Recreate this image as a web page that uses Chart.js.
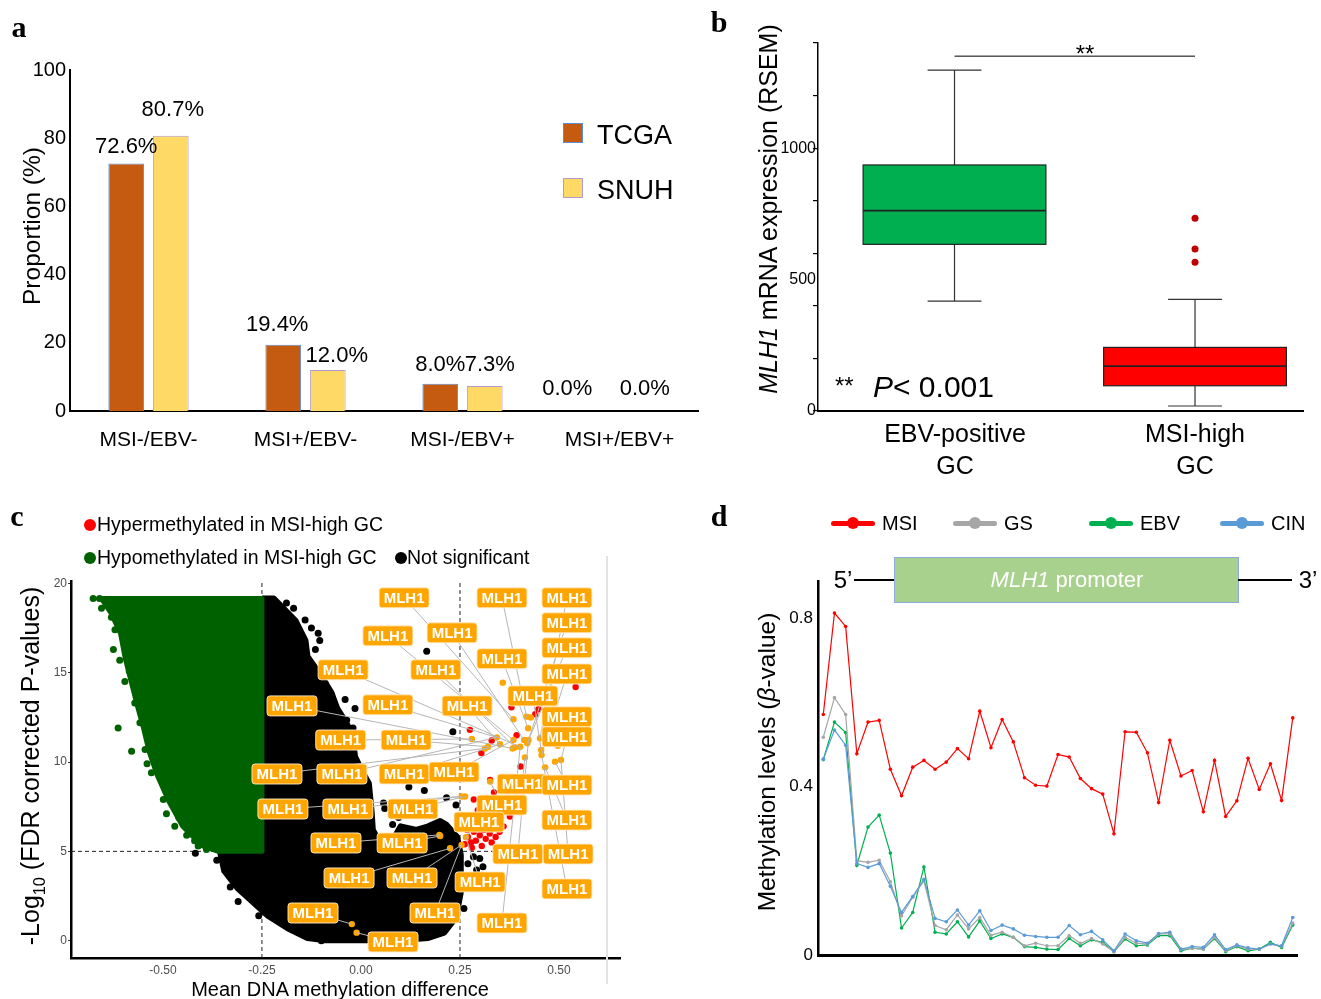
<!DOCTYPE html>
<html>
<head>
<meta charset="utf-8">
<title>MLH1 figure</title>
<script src="https://cdn.jsdelivr.net/npm/chart.js@4.4.1/dist/chart.umd.min.js"></script>
<style>
  body { margin: 0; background: #fff; }
  #fig { position: relative; width: 1321px; height: 999px; overflow: hidden; background: #fff;
         font-family: 'Liberation Sans', Arial, sans-serif; color: #000; }
  #fig canvas { position: absolute; }
  .t { position: absolute; white-space: nowrap; line-height: 1; }
  .panel { font-family: 'Liberation Serif', 'Times New Roman', serif; font-weight: bold; }
</style>
</head>
<body>
<div id="fig">
  <canvas id="chartA" width="720" height="480" style="left:0;top:0"></canvas>
  <canvas id="chartB" width="601" height="480" style="left:720px;top:0"></canvas>
  <canvas id="chartC" width="720" height="519" style="left:0;top:480px"></canvas>
  <canvas id="chartD" width="601" height="519" style="left:720px;top:480px"></canvas>
</div>
<script>
// a: subtype proportions
const subtypes = ['MSI-/EBV-', 'MSI+/EBV-', 'MSI-/EBV+', 'MSI+/EBV+'];
const tcgaPct = [72.6, 19.4, 8.0, 0.0];
const snuhPct = [80.7, 12.0, 7.3, 0.0];

// b: MLH1 expression box plots
const exprGroups = [['EBV-positive', 'GC'], ['MSI-high', 'GC']];
const exprMin = [418, 19];
const exprQ1 = [634, 96];
const exprMedian = [762, 171];
const exprQ3 = [936, 242];
const exprMax = [1297, 425];
const msiOutliers = [733, 616, 566];
const exprSigY = 1350;
const exprTicks = [0, 200, 400, 500, 600, 800, 1000, 1200, 1400];
const exprTickLabels = [0, 500, 1000];

// c: volcano plot (dense clouds as outlines, sparse points individually)
const diffCut = [-0.25, 0.25];
const fdrCut = 5;
const notSigCloud = [
  [-0.25, 19.15], [-0.22, 19.15], [-0.2, 18.7], [-0.165, 17.9], [-0.14, 16.8], [-0.135, 15.9],
  [-0.1, 14.8], [-0.075, 13.9], [-0.06, 13.0], [-0.04, 12.3], [-0.022, 11.6], [-0.015, 10.3],
  [0.005, 9.4], [0.02, 8.8], [0.027, 7.2], [0.03, 6.2], [0.05, 5.4], [0.085, 5.8], [0.1, 6.4],
  [0.14, 6.2], [0.17, 6.4], [0.2, 6.7], [0.215, 6.5], [0.243, 5.8], [0.252, 4.8], [0.252, 2.7],
  [0.24, 1.3], [0.21, 0.45], [0.17, 0.15], [0.11, 0.05], [0.05, 0.03], [-0.09, 0.03],
  [-0.135, 0.15], [-0.185, 0.7], [-0.235, 1.4], [-0.275, 2.2], [-0.31, 2.9], [-0.345, 3.9],
  [-0.355, 4.9], [-0.25, 4.9], [-0.25, 19.15],
];
const notSigDots = [
  [-0.188, 18.9], [-0.17, 18.6], [-0.141, 17.95], [-0.125, 17.5], [-0.108, 17.2], [-0.104, 16.8],
  [-0.115, 16.3], [-0.09, 14.4], [-0.074, 13.75], [-0.04, 13.5], [-0.015, 13.0], [-0.036, 12.35],
  [-0.02, 11.9], [0.166, 16.2], [0.232, 11.7], [0.121, 8.6], [0.16, 8.4], [0.057, 7.7],
  [0.216, 8.0], [0.06, 7.4], [0.24, 7.6], [0.284, 4.7], [0.308, 4.14], [0.292, 3.96], [0.3, 4.6],
  [0.27, 4.3], [0.206, 0.8], [0.26, 1.8], [-0.418, 4.9], [-0.364, 4.5], [-0.258, 1.4],
  [-0.31, 2.2], [-0.33, 3.0], [-0.1, 0.0], [0.08, 6.5], [0.095, 6.9],
];
const hypoCloud = [
  [-0.655, 19.15], [-0.25, 19.15], [-0.25, 5.0], [-0.36, 5.0], [-0.4, 5.3], [-0.45, 6.4],
  [-0.485, 7.8], [-0.515, 9.3], [-0.535, 10.6], [-0.55, 12.0], [-0.565, 13.2], [-0.58, 14.5],
  [-0.595, 15.8], [-0.607, 17.2], [-0.63, 18.3], [-0.655, 19.15],
];
const hypoDots = [
  [-0.676, 19.15], [-0.66, 19.15], [-0.64, 19.0], [-0.655, 18.6], [-0.63, 18.1], [-0.621, 17.4],
  [-0.625, 16.3], [-0.609, 15.7], [-0.596, 14.5], [-0.585, 15.1], [-0.571, 13.3], [-0.558, 12.2],
  [-0.613, 11.9], [-0.545, 10.7], [-0.579, 10.6], [-0.529, 9.4], [-0.54, 9.9], [-0.499, 7.9],
  [-0.491, 7.1], [-0.47, 6.4], [-0.46, 6.9], [-0.44, 5.9], [-0.411, 5.3], [-0.42, 5.6], [-0.39, 5.1],
];
const hyperDots = [
  [0.262, 5.4], [0.27, 5.8], [0.278, 5.5], [0.285, 6.1], [0.29, 5.6], [0.296, 6.4], [0.3, 5.9],
  [0.305, 5.3], [0.31, 6.2], [0.315, 5.7], [0.32, 6.6], [0.325, 6.0], [0.33, 5.5], [0.335, 6.3],
  [0.34, 5.8], [0.275, 6.6], [0.283, 7.0], [0.295, 7.3], [0.31, 7.6], [0.322, 7.1], [0.338, 7.8],
  [0.285, 7.9], [0.336, 8.3], [0.326, 9.0], [0.376, 6.95], [0.36, 6.4], [0.345, 6.9], [0.304, 10.5],
  [0.275, 11.8], [0.33, 11.2], [0.393, 11.5], [0.38, 13.06], [0.44, 12.67], [0.448, 12.95],
  [0.542, 14.2], [0.403, 9.75], [0.28, 5.2], [0.35, 6.1], [0.3, 6.9], [0.268, 6.2],
];
const probeGene = 'MLH1';
const mlh1Probes = [
  [0.358, 14.44], [0.418, 12.54], [0.429, 12.49], [0.422, 11.89], [0.385, 12.39], [0.343, 11.38],
  [0.351, 10.99], [0.385, 11.23], [0.389, 10.82], [0.383, 10.76], [0.402, 10.85], [0.412, 11.23],
  [0.423, 11.23], [0.42, 11.05], [0.452, 11.33], [0.28, 11.29], [0.321, 10.85], [0.313, 10.76],
  [0.414, 10.25], [0.455, 10.67], [0.456, 10.39], [0.49, 10.02], [0.505, 10.11], [0.465, 9.7],
  [0.326, 8.91], [0.254, 8.07], [0.263, 8.07], [0.2, 5.86], [0.265, 5.79], [0.225, 5.17],
  [0.254, 5.36], [-0.023, 0.93], [-0.011, 0.45], [0.198, 5.92], [0.497, 10.91],
];
// label x, label y, index of the probe it points at
const probeLabels = [
  [0.109, 19.19, 4], [0.356, 19.19, 1], [0.52, 19.19, 14], [0.52, 17.79, 12], [0.068, 17.06, 7],
  [0.23, 17.23, 11], [0.52, 16.39, 13], [0.356, 15.78, 3], [-0.045, 15.16, 10], [0.189, 15.16, 8],
  [0.52, 14.93, 20], [0.434, 13.7, 19], [-0.174, 13.14, 9], [0.068, 13.2, 5], [0.268, 13.14, 6],
  [0.52, 12.53, 34], [0.52, 11.41, 22], [-0.051, 11.23, 15], [0.114, 11.23, 16], [-0.212, 9.33, 17],
  [-0.048, 9.33, 5], [0.109, 9.33, 6], [0.235, 9.44, 7], [0.407, 8.77, 18], [0.52, 8.71, 21],
  [0.356, 7.59, 24], [-0.197, 7.37, 25], [-0.033, 7.37, 25], [0.131, 7.37, 26], [0.298, 6.64, 28],
  [0.52, 6.75, 23], [-0.063, 5.47, 33], [0.104, 5.47, 27], [0.396, 4.85, 12], [0.523, 4.85, 22],
  [-0.03, 3.51, 29], [0.129, 3.51, 30], [0.301, 3.29, 28], [0.52, 2.9, 20], [-0.121, 1.55, 31],
  [0.187, 1.55, 30], [0.356, 0.99, 10], [0.081, -0.07, 32],
];

// d: promoter CpG methylation per subtype
const msiBeta = [0.571, 0.812, 0.78, 0.478, 0.553, 0.557, 0.441, 0.378, 0.446, 0.462, 0.441, 0.458,
  0.49, 0.466, 0.579, 0.492, 0.559, 0.506, 0.421, 0.403, 0.401, 0.476, 0.47, 0.419, 0.395, 0.382,
  0.288, 0.53, 0.529, 0.48, 0.362, 0.51, 0.425, 0.438, 0.34, 0.462, 0.329, 0.366, 0.467, 0.393,
  0.454, 0.367, 0.563];
const gsBeta = [0.517, 0.611, 0.571, 0.224, 0.22, 0.225, 0.174, 0.093, 0.137, 0.176, 0.07, 0.06,
  0.095, 0.062, 0.089, 0.047, 0.054, 0.042, 0.022, 0.028, 0.022, 0.022, 0.046, 0.028, 0.039, 0.026,
  0.008, 0.042, 0.028, 0.026, 0.05, 0.05, 0.013, 0.016, 0.014, 0.042, 0.01, 0.022, 0.014, 0.014,
  0.026, 0.021, 0.076];
const ebvBeta = [0.464, 0.553, 0.528, 0.213, 0.304, 0.332, 0.242, 0.064, 0.101, 0.209, 0.054, 0.05,
  0.079, 0.043, 0.081, 0.039, 0.05, 0.042, 0.02, 0.018, 0.014, 0.013, 0.039, 0.022, 0.036, 0.03,
  0.008, 0.038, 0.022, 0.024, 0.046, 0.046, 0.01, 0.016, 0.014, 0.039, 0.008, 0.02, 0.01, 0.014,
  0.03, 0.018, 0.071];
const cinBeta = [0.465, 0.534, 0.498, 0.217, 0.208, 0.217, 0.163, 0.101, 0.139, 0.18, 0.087, 0.079,
  0.107, 0.071, 0.105, 0.058, 0.071, 0.062, 0.047, 0.044, 0.042, 0.042, 0.07, 0.048, 0.056, 0.036,
  0.01, 0.05, 0.034, 0.028, 0.051, 0.054, 0.014, 0.02, 0.018, 0.048, 0.013, 0.024, 0.017, 0.014,
  0.026, 0.022, 0.089];

Chart.defaults.font.family = "'Liberation Sans', Arial, sans-serif";
Chart.defaults.color = '#000';
Chart.defaults.animation = false;
Chart.defaults.responsive = false;
Chart.defaults.events = [];
Chart.defaults.plugins.legend.display = false;
Chart.defaults.plugins.tooltip.enabled = false;

const fig = document.getElementById('fig');

function put(html, x, y, size, opt = {}) {
  const d = document.createElement('div');
  d.className = 't' + (opt.cls ? ' ' + opt.cls : '');
  d.innerHTML = html;
  d.style.left = x + 'px';
  d.style.top = y + 'px';
  d.style.fontSize = size + 'px';
  let tf = opt.left ? 'translate(0,-50%)' : 'translate(-50%,-50%)';
  if (opt.rot) tf += ' rotate(-90deg)';
  d.style.transform = tf;
  if (opt.color) d.style.color = opt.color;
  fig.appendChild(d);
  return d;
}

function block(x, y, w, h, css) {
  const d = document.createElement('div');
  d.style.cssText = `position:absolute;left:${x}px;top:${y}px;width:${w}px;height:${h}px;box-sizing:border-box;${css}`;
  fig.appendChild(d);
}

const pts = (arr) => arr.map(([x, y]) => ({ x, y }));

// ---------- a ----------
// label placement as in the original figure (px shift right, px lift above bar)
const pctShift = [[0, -6, 0, -30], [2, 9, 5, 3]];
const pctLift = [[16, 20, 19, 22], [26, 14, 21, 22]];

const pctLabels = {
  id: 'pctLabels',
  afterDatasetsDraw(chart) {
    const { ctx } = chart;
    ctx.save();
    ctx.font = "22px 'Liberation Sans', Arial, sans-serif";
    ctx.fillStyle = '#000';
    ctx.textAlign = 'center';
    ctx.textBaseline = 'middle';
    chart.data.datasets.forEach((ds, i) => {
      chart.getDatasetMeta(i).data.forEach((bar, j) => {
        ctx.fillText(ds.data[j].toFixed(1) + '%', bar.x + pctShift[i][j], bar.y - pctLift[i][j]);
      });
    });
    ctx.restore();
  },
};

new Chart(document.getElementById('chartA'), {
  type: 'bar',
  data: {
    labels: subtypes,
    datasets: [
      { data: tcgaPct, backgroundColor: '#C55A11', borderColor: '#5B8BD0', borderWidth: 1 },
      { data: snuhPct, backgroundColor: '#FFD966', borderColor: '#B09CCF', borderWidth: 1 },
    ],
  },
  options: {
    layout: { padding: { left: 20, right: 22, top: 70, bottom: 19 } },
    datasets: { bar: { categoryPercentage: 0.567, barPercentage: 0.803 } },
    scales: {
      x: {
        grid: { display: false, drawTicks: false },
        border: { color: '#000', width: 2 },
        ticks: { font: { size: 21 }, padding: 17 },
        afterFit: (s) => { s.height = 50; },
      },
      y: {
        min: 0, max: 100,
        grid: { display: false, drawTicks: false },
        border: { color: '#000', width: 2 },
        ticks: { stepSize: 20, font: { size: 20 }, padding: 4 },
        afterFit: (s) => { s.width = 50; },
      },
    },
  },
  plugins: [pctLabels],
});

// ---------- b ----------
const BOX_HALF = 0.38;
const CAP_HALF = 0.112;
const boxFill = ['#00B050', '#FF0000'];

const boxPlot = {
  id: 'boxPlot',
  beforeDatasetsDraw(chart) {
    const { ctx, scales: { x, y } } = chart;
    ctx.save();
    exprGroups.forEach((g, i) => {
      const c = x.getPixelForValue(i + 1);
      const hw = x.getPixelForValue(i + 1 + BOX_HALF) - c;
      const cw = x.getPixelForValue(i + 1 + CAP_HALF) - c;
      const yLo = y.getPixelForValue(exprMin[i]);
      const yQ1 = y.getPixelForValue(exprQ1[i]);
      const yMed = y.getPixelForValue(exprMedian[i]);
      const yQ3 = y.getPixelForValue(exprQ3[i]);
      const yHi = y.getPixelForValue(exprMax[i]);
      ctx.strokeStyle = '#333';
      ctx.lineWidth = 1.2;
      ctx.beginPath();
      ctx.moveTo(c, yHi); ctx.lineTo(c, yQ3);
      ctx.moveTo(c, yQ1); ctx.lineTo(c, yLo);
      ctx.moveTo(c - cw, yHi); ctx.lineTo(c + cw, yHi);
      ctx.moveTo(c - cw, yLo); ctx.lineTo(c + cw, yLo);
      ctx.stroke();
      ctx.fillStyle = boxFill[i];
      ctx.fillRect(c - hw, yQ3, 2 * hw, yQ1 - yQ3);
      ctx.strokeStyle = '#222';
      ctx.strokeRect(c - hw, yQ3, 2 * hw, yQ1 - yQ3);
      ctx.lineWidth = 1.8;
      ctx.beginPath();
      ctx.moveTo(c - hw, yMed); ctx.lineTo(c + hw, yMed);
      ctx.stroke();
    });
    ctx.restore();
  },
};

new Chart(document.getElementById('chartB'), {
  type: 'scatter',
  data: {
    datasets: [
      { data: msiOutliers.map((v) => ({ x: 2, y: v })), pointRadius: 3.5, backgroundColor: '#C00000', borderWidth: 0 },
      { data: [{ x: 1, y: exprSigY }, { x: 2, y: exprSigY }], showLine: true, borderColor: '#000', borderWidth: 1, pointRadius: 0 },
    ],
  },
  options: {
    layout: { padding: { left: 48, right: 18, top: 43, bottom: 19 } },
    scales: {
      x: {
        type: 'linear', min: 0.4324, max: 2.449,
        ticks: { display: false },
        grid: { display: false, drawTicks: false },
        border: { color: '#000', width: 2 },
        afterFit: (s) => { s.height = 50; },
      },
      y: {
        min: 0, max: 1400,
        afterBuildTicks: (s) => { s.ticks = exprTicks.map((v) => ({ value: v })); },
        ticks: {
          font: { size: 16 }, padding: -3,
          callback: (v) => (exprTickLabels.includes(v) ? String(v) : ''),
        },
        grid: {
          drawOnChartArea: false, tickLength: 5, lineWidth: 1.2,
          tickColor: (c) => (c.tick && c.tick.value === 500 ? 'rgba(0,0,0,0)' : '#000'),
        },
        border: { color: '#000', width: 1.5 },
        afterFit: (s) => { s.width = 50; },
      },
    },
  },
  plugins: [boxPlot],
});

// ---------- c ----------
const cX = { min: -0.732, max: 0.654 };
const cY = { min: -0.968, max: 20.13 };
const fdrLineEnd = 0.59;

const repelLabels = {
  id: 'repelLabels',
  afterDatasetsDraw(chart) {
    const { ctx, scales: { x, y } } = chart;
    ctx.save();
    ctx.strokeStyle = '#b5b5b5';
    ctx.lineWidth = 1;
    probeLabels.forEach(([lx, ly, t]) => {
      const p = mlh1Probes[t];
      ctx.beginPath();
      ctx.moveTo(x.getPixelForValue(lx), y.getPixelForValue(ly));
      ctx.lineTo(x.getPixelForValue(p[0]), y.getPixelForValue(p[1]));
      ctx.stroke();
    });
    ctx.font = "bold 15px 'Liberation Sans', Arial, sans-serif";
    ctx.textAlign = 'center';
    ctx.textBaseline = 'middle';
    probeLabels.forEach(([lx, ly]) => {
      const px = x.getPixelForValue(lx), py = y.getPixelForValue(ly);
      ctx.beginPath();
      ctx.roundRect(px - 25, py - 10, 50, 20, 3);
      ctx.fillStyle = '#FFA500';
      ctx.fill();
      ctx.strokeStyle = 'rgba(255,235,200,0.9)';
      ctx.stroke();
      ctx.fillStyle = '#fff';
      ctx.fillText(probeGene, px, py + 1);
    });
    ctx.restore();
  },
};

const dashed = { showLine: true, borderColor: '#222', borderWidth: 1, borderDash: [4, 3], pointRadius: 0, order: 20 };

new Chart(document.getElementById('chartC'), {
  type: 'scatter',
  data: {
    datasets: [
      ...diffCut.map((v) => ({ ...dashed, data: [{ x: v, y: cY.min }, { x: v, y: cY.max }] })),
      { ...dashed, data: [{ x: cX.min, y: fdrCut }, { x: fdrLineEnd, y: fdrCut }] },
      { data: pts(notSigCloud), showLine: true, fill: 'shape', backgroundColor: '#000', borderColor: '#000',
        borderWidth: 6, borderJoinStyle: 'round', pointRadius: 0, order: 15 },
      { data: pts(notSigDots), pointRadius: 3.5, backgroundColor: '#000', borderWidth: 0, order: 14 },
      { data: pts(hypoCloud), showLine: true, fill: 'shape', backgroundColor: '#006100', borderColor: '#006100',
        borderWidth: 5, borderJoinStyle: 'round', pointRadius: 0, order: 13 },
      { data: pts(hypoDots), pointRadius: 3.5, backgroundColor: '#006100', borderWidth: 0, order: 12 },
      { data: pts(hyperDots), pointRadius: 3.2, backgroundColor: '#FF0000', borderWidth: 0, order: 11 },
      { data: pts(mlh1Probes), pointRadius: 3.2, backgroundColor: '#FFA500', borderWidth: 0, order: 10 },
    ],
  },
  options: {
    layout: { padding: { left: 26, right: 100, top: 101, bottom: 11 } },
    scales: {
      x: {
        type: 'linear', min: cX.min, max: cX.max,
        grid: { display: false, drawTicks: false },
        border: { color: '#000', width: 2.5 },
        ticks: { stepSize: 0.25, includeBounds: false, color: '#4d4d4d', font: { size: 12 }, padding: 5,
          callback: (v) => v.toFixed(2) },
        afterFit: (s) => { s.height = 30; },
      },
      y: {
        min: cY.min, max: cY.max,
        grid: { drawOnChartArea: false, tickLength: 3, tickColor: '#333' },
        border: { color: '#000', width: 2.5 },
        ticks: { stepSize: 5, includeBounds: false, color: '#4d4d4d', font: { size: 12 }, padding: 1 },
        afterFit: (s) => { s.width = 45; },
      },
    },
  },
  plugins: [repelLabels],
});

// ---------- d ----------
const subtypeSeries = [
  { name: 'CIN', values: cinBeta, color: '#5B9BD5' },
  { name: 'GS', values: gsBeta, color: '#A6A6A6' },
  { name: 'EBV', values: ebvBeta, color: '#00B050' },
  { name: 'MSI', values: msiBeta, color: '#FF0000' },
];

new Chart(document.getElementById('chartD'), {
  type: 'line',
  data: {
    datasets: subtypeSeries.map((s) => ({
      data: s.values.map((v, i) => ({ x: i + 1, y: v })),
      borderColor: s.color, backgroundColor: s.color, borderWidth: 1.2,
      pointRadius: 1.8, pointBorderWidth: 0, tension: 0,
    })),
  },
  options: {
    layout: { padding: { left: 48, right: 24, top: 101, bottom: 24 } },
    scales: {
      x: {
        type: 'linear', min: 0.526, max: 43.38,
        ticks: { display: false },
        grid: { display: false, drawTicks: false },
        border: { color: '#000', width: 3 },
        afterFit: (s) => { s.height = 20; },
      },
      y: {
        min: 0, max: 0.888,
        grid: { display: false, drawTicks: false },
        border: { color: '#000', width: 2.5 },
        ticks: { stepSize: 0.4, includeBounds: false, font: { size: 17 }, padding: 5,
          callback: (v) => (v === 0 ? '0' : v.toFixed(1)) },
        afterFit: (s) => { s.width = 50; },
      },
    },
  },
});

// ---------- text and keys ----------
put('a', 19, 27, 30, { cls: 'panel' });
put('b', 719, 22, 30, { cls: 'panel' });
put('c', 17, 516, 30, { cls: 'panel' });
put('d', 719, 516, 30, { cls: 'panel' });

// a
put('Proportion (%)', 32, 226, 24.5, { rot: true });
block(563, 123, 20, 20, 'background:#C55A11;border:1px solid #5B8BD0;');
put('TCGA', 597, 135, 27, { left: true });
block(563, 178, 20, 20, 'background:#FFD966;border:1px solid #B09CCF;');
put('SNUH', 597, 190, 27, { left: true });

// b
put('<i>MLH1</i> mRNA expression (RSEM)', 768, 209, 25, { rot: true });
put('**', 1085, 54, 24);
put('**', 835, 386, 24, { left: true });
put('<i>P</i>&lt; 0.001', 873, 387, 30, { left: true });
[955, 1195].forEach((cx, i) => {
  put(exprGroups[i][0], cx, 433, 25);
  put(exprGroups[i][1], cx, 465, 25);
});

// c
block(84, 519, 12, 12, 'background:#FF0000;border-radius:50%;');
put('Hypermethylated in MSI-high GC', 97, 525, 19.5, { left: true });
block(84, 552, 12, 12, 'background:#006100;border-radius:50%;');
put('Hypomethylated in MSI-high GC', 97, 558, 19.5, { left: true });
block(395, 552, 12, 12, 'background:#000;border-radius:50%;');
put('Not significant', 407, 558, 19.5, { left: true });
put('-Log<sub style="font-size:0.65em">10</sub> (FDR corrected P-values)', 33, 766, 25, { rot: true });
put('Mean DNA methylation difference', 340, 989, 20);
block(606, 556, 1.5, 428, 'background:#e3e3e3;');

// d
const legendD = [
  { name: 'MSI', color: '#FF0000', x: 831, tx: 882 },
  { name: 'GS', color: '#A6A6A6', x: 953, tx: 1004 },
  { name: 'EBV', color: '#00B050', x: 1089, tx: 1140 },
  { name: 'CIN', color: '#5B9BD5', x: 1220, tx: 1271 },
];
legendD.forEach((l) => {
  block(l.x, 520.5, 44, 5, `background:${l.color};border-radius:3px;`);
  block(l.x + 16, 517, 12, 12, `background:${l.color};border-radius:50%;`);
  put(l.name, l.tx, 523, 20, { left: true });
});
put('5’', 843, 580, 24);
block(854, 579, 40, 1.5, 'background:#000;');
block(893.5, 556.5, 345, 46, 'background:#A9D18E;border:1.5px solid #8EA9DB;');
put('<i>MLH1</i> promoter', 1067, 580, 22, { color: '#fff' });
block(1238, 579, 54, 1.5, 'background:#000;');
put('3’', 1308, 580, 24);
put('Methylation levels (<i>β</i>-value)', 767, 762, 24.5, { rot: true });
</script>
</body>
</html>
